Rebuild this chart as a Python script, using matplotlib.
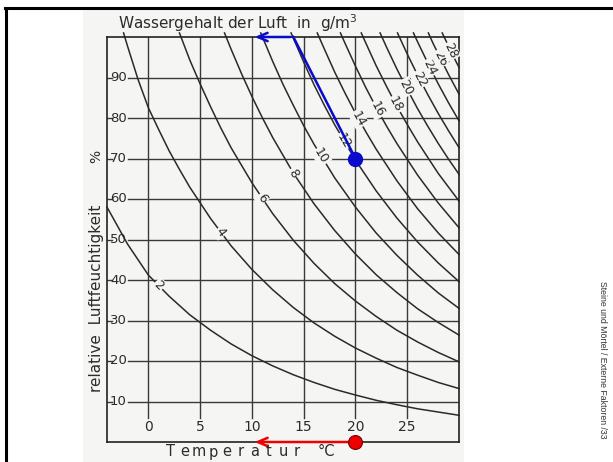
import numpy as np
import matplotlib.pyplot as plt
from matplotlib.lines import Line2D
from matplotlib.patches import Rectangle

# Achsen (Temperatur in °C, relative Luftfeuchte in %)
temp_ticks = [0, 5, 10, 15, 20, 25]
rh_ticks = [10, 20, 30, 40, 50, 60, 70, 80, 90]

# Linien gleichen Wassergehalts in g/m3
levels = [2, 4, 6, 8, 10, 12, 14, 16, 18, 20, 22, 24, 26, 28]
curve_temps = [
    [-4, -2, 0, 2, 4, 6, 8, 10, 12, 14, 16, 18, 20, 22, 24, 26, 28, 30],
    [-2.4, -2, -1, 0, 1, 2, 3, 4, 6, 8, 10, 12, 14, 16, 18, 20, 22, 24, 26, 28, 30],
    [3.0, 4, 5, 6, 7, 8, 10, 12, 14, 16, 18, 20, 22, 24, 26, 28, 30],
    [7.35, 8, 9, 10, 11, 12, 14, 16, 18, 20, 22, 24, 26, 28, 30],
    [10.85, 11, 12, 13, 14, 15, 16, 18, 20, 22, 24, 26, 28, 30],
    [13.78, 14, 15, 16, 17, 18, 20, 22, 24, 26, 28, 30],
    [16.31, 17, 18, 19, 20, 21, 22, 24, 26, 28, 30],
    [18.55, 19, 20, 21, 22, 23, 24, 26, 28, 30],
    [20.56, 21, 22, 23, 24, 25, 26, 28, 30],
    [22.38, 23, 24, 25, 26, 27, 28, 29, 30],
    [24.06, 25, 26, 27, 28, 29, 30],
    [25.6, 26, 27, 28, 29, 30],
    [27.04, 27.5, 28, 29, 30],
    [28.38, 29, 29.5, 30],
]
curve_rh = [
    [58.0, 48.8, 41.2, 36.0, 31.4, 27.6, 24.2, 21.3, 18.8, 16.6, 14.7, 13.0, 11.6, 10.3, 9.2, 8.2, 7.4, 6.6],
    [101, 97.6, 89.5, 82.5, 77.1, 71.9, 67.3, 62.9, 55.2, 48.4, 42.6, 37.6, 33.2, 29.4, 26.1, 23.2, 20.7, 18.4, 16.5, 14.7, 13.2],
    [101, 94.3, 88.4, 82.8, 77.5, 72.6, 64.0, 56.4, 49.8, 44.1, 39.1, 34.8, 31.0, 27.6, 24.7, 22.1, 19.8],
    [101, 96.9, 90.9, 85.3, 80.1, 75.2, 66.4, 58.8, 52.2, 46.4, 41.3, 36.9, 32.9, 29.5, 26.4],
    [101, 100.1, 94.0, 88.3, 83.1, 78.1, 73.5, 65.2, 58.0, 51.6, 46.1, 41.2, 36.8, 33.0],
    [101, 99.7, 93.8, 88.2, 83.1, 78.3, 69.6, 62.0, 55.3, 49.4, 44.2, 39.6],
    [101, 97.0, 91.3, 86.1, 81.2, 76.6, 72.3, 64.5, 57.6, 51.6, 46.3],
    [101, 98.4, 92.8, 87.5, 82.6, 78.0, 73.7, 65.9, 59.0, 52.9],
    [101, 98.5, 92.9, 87.8, 82.9, 78.4, 74.1, 66.3, 59.5],
    [101, 97.5, 92.1, 87.1, 82.3, 77.9, 73.7, 69.8, 66.1],
    [101, 95.8, 90.6, 85.7, 81.1, 76.8, 72.7],
    [101, 98.8, 93.5, 88.4, 83.7, 79.3],
    [101, 98.4, 95.8, 90.7, 85.9],
    [101, 97.7, 95.0, 92.5],
]
# Temperatur, bei der die Kurvenbeschriftung sitzt
label_temps = [1.0, 7.0, 11.0, 14.0, 16.7, 18.9, 20.3, 22.1, 23.9, 24.9, 26.2, 27.2, 28.2, 29.2]

# Beispiel: 20 °C, 70 % -> 12 g/m3 -> Taupunkt ca. 14 °C bzw. 10 °C
point_temp, point_rh = 20, 70
dew_temp = 14
arrow_end_temp = 10

W, H = 613, 462
ink = '#2b2b2b'
paper = '#f5f5f3'
narrow = ['Liberation Sans Narrow', 'DejaVu Sans']


def fx(x):
    return x / W


def fy(y):
    return 1 - y / H


fig = plt.figure(figsize=(W / 100, H / 100), dpi=100)
fig.patch.set_facecolor('white')

# eingescannte Vorlage + Folienrahmen
fig.patches.append(Rectangle((fx(83), fy(462)), fx(464) - fx(83), fy(10) - fy(462),
                             transform=fig.transFigure, facecolor=paper, edgecolor='none', zorder=-5))
fig.lines.append(Line2D([fx(5), 1], [fy(8), fy(8)], transform=fig.transFigure, color='black', lw=2.2))
fig.lines.append(Line2D([fx(6), fx(6)], [fy(8), 0], transform=fig.transFigure, color='black', lw=2.2))

ax = fig.add_axes([fx(107), fy(442), fx(459) - fx(107), fy(37) - fy(442)])
ax.set_zorder(2)
ax.set_facecolor(paper)
ax.set_xlim(-4, 30)
ax.set_ylim(0, 100)
ax.set_xticks([])
ax.set_yticks([])
for sp in ax.spines.values():
    sp.set_color('#222222')
    sp.set_linewidth(1.2)

# Gitter
for t in temp_ticks:
    ax.plot([t, t], [6.0, 100], color='#3a3a3a', lw=1.0, zorder=1)
    ax.text(t, 3.7, str(t), ha='center', va='center', fontsize=10, color=ink, family=narrow)
for r in rh_ticks:
    ax.plot([-2.0, 30], [r, r], color='#3a3a3a', lw=1.0, zorder=1)
    ax.plot([-4, -3.55], [r, r], color='#3a3a3a', lw=1.0, zorder=1)
    ax.text(-2.9, r, str(r), ha='center', va='center', fontsize=9.5, color=ink, family=narrow)

# Kurven gleichen Wassergehalts
for lev, ts, rs in zip(levels, curve_temps, curve_rh):
    ax.plot(ts, rs, color='#2a2a2a', lw=1.1, zorder=2, clip_on=False)

# Beschriftung der Kurven entlang der Linie
for lev, ts, rs, lt in zip(levels, curve_temps, curve_rh, label_temps):
    lr = np.interp(lt, ts, rs)
    p1 = ax.transData.transform((lt - 0.3, np.interp(lt - 0.3, ts, rs)))
    p2 = ax.transData.transform((lt + 0.3, np.interp(lt + 0.3, ts, rs)))
    ang = np.degrees(np.arctan2(p2[1] - p1[1], p2[0] - p1[0]))
    ax.text(lt, lr, str(lev), ha='center', va='center', rotation=ang, rotation_mode='anchor',
            fontsize=9, color=ink, family=narrow, zorder=3,
            bbox=dict(boxstyle='square,pad=0.08', facecolor=paper, edgecolor='none'))

# Ablesebeispiel
ax.plot([point_temp, dew_temp], [point_rh, 100], color='#0a0acc', lw=1.8, zorder=5, clip_on=False)
ax.annotate('', xy=(arrow_end_temp, 100), xytext=(dew_temp, 100),
            arrowprops=dict(arrowstyle='->,head_length=0.7,head_width=0.3', color='#0a0acc', lw=1.8),
            annotation_clip=False, zorder=5)
ax.plot(point_temp, point_rh, 'o', ms=10, color='#0a0acc', zorder=6, clip_on=False)

ax.annotate('', xy=(arrow_end_temp, 0), xytext=(point_temp, 0),
            arrowprops=dict(arrowstyle='->,head_length=0.7,head_width=0.3', color='#ee0000', lw=1.8),
            annotation_clip=False, zorder=5)
ax.plot(point_temp, 0, 'o', ms=10, color='#ee0000', mec='#7a0000', mew=0.8, zorder=6, clip_on=False)

# Achsbeschriftungen
fig.text(fx(118), fy(29), 'Wassergehalt der Luft  in  g/m$^3$', ha='left', va='baseline',
         fontsize=11, color=ink, family=narrow)
for i, ch in enumerate('Temperatur'):
    fig.text(fx(171 + i * 14.0), fy(452), ch, ha='center', va='center', fontsize=10.5,
             color=ink, family=narrow)
fig.text(fx(326), fy(452), '°C', ha='center', va='center', fontsize=10.5, color=ink, family=narrow)
fig.text(fx(97), fy(298), 'relative  Luftfeuchtigkeit', ha='center', va='center', rotation=90,
         fontsize=11, color=ink, family=narrow)
fig.text(fx(96), fy(156), '%', ha='center', va='center', rotation=90, fontsize=10, color=ink,
         family=narrow)

fig.text(fx(603), fy(360), 'Steine und Mörtel / Externe Faktoren /33', ha='center', va='center',
         rotation=270, fontsize=6.3, color='#333333', family=['Liberation Sans', 'DejaVu Sans'])

plt.savefig('out.png', dpi=100)
